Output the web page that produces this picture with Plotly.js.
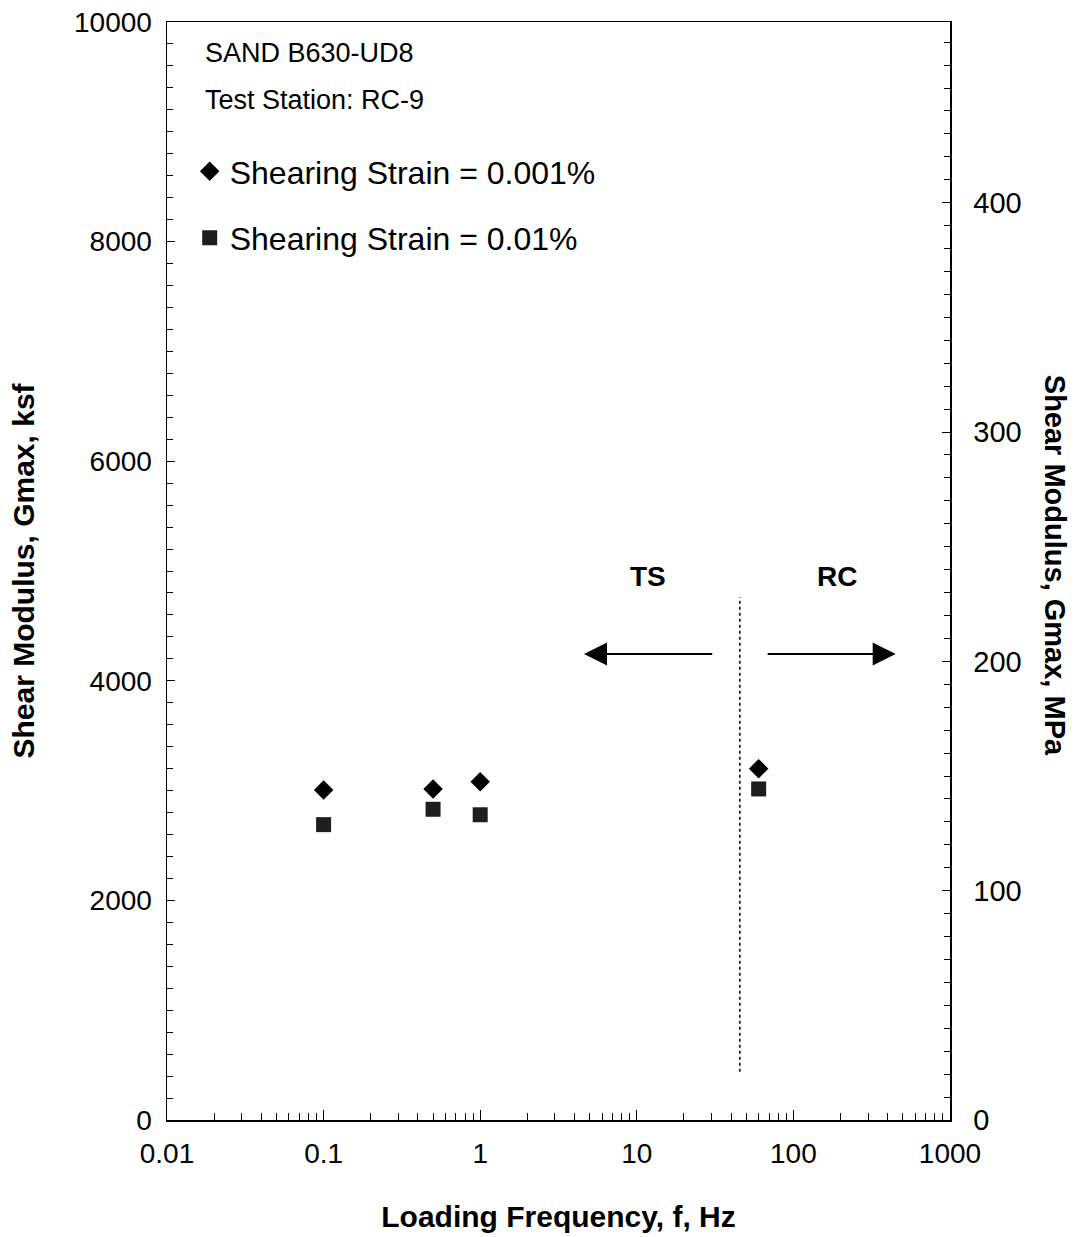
<!DOCTYPE html>
<html>
<head>
<meta charset="utf-8">
<script src="https://cdn.plot.ly/plotly-3.0.1.min.js"></script>
<style>body{margin:0;background:#fff;} #chart{width:1080px;height:1237px;}</style>
</head>
<body>
<div id="chart"></div>
<script>
// Data
const freqHz = [0.1, 0.5, 1, 60];
const gmaxStrain001 = [3005, 3015, 3080, 3200];   // ksf, strain 0.001%
const gmaxStrain01 = [2690, 2830, 2780, 3015];    // ksf, strain 0.01%
const seriesNames = ['Shearing Strain = 0.001%', 'Shearing Strain = 0.01%'];
const dividerFreq = [45.5, 45.5];
const dividerG = [440, 4760];
const ksfToMPa = 0.04788;
const yRangeKsf = [0, 10000];
const xTickVals = [0.01, 0.1, 1, 10, 100, 1000];
const xTickText = ['0.01', '0.1', '1', '10', '100', '1000'];
const infoLines = ['SAND B630-UD8', 'Test Station: RC-9'];
const regionLabels = ['TS', 'RC'];
const regionLabelFreq = [11.8, 190];
const regionLabelG = 4950;
const arrowG = 4245;
const arrowTS = [31, 4.6];   // tail, head
const arrowRC = [67, 450];   // tail, head

const font = 'Liberation Sans, Arial, sans-serif';

const traces = [
  {x: freqHz, y: gmaxStrain001, mode: 'markers', type: 'scatter', name: seriesNames[0],
   legendgroup: 'a', marker: {symbol: 'diamond', size: 15, color: '#000'}},
  {x: freqHz, y: gmaxStrain01, mode: 'markers', type: 'scatter', name: seriesNames[1],
   legendgroup: 'b', marker: {symbol: 'square', size: 15, color: '#1e1e1e'}},
  {x: dividerFreq, y: dividerG, mode: 'lines', type: 'scatter', showlegend: false,
   line: {color: '#000', width: 1.5, dash: 'dot'}, hoverinfo: 'skip'},
  {x: freqHz, y: gmaxStrain001.map(v => v * ksfToMPa), yaxis: 'y2', mode: 'markers',
   type: 'scatter', showlegend: false, marker: {opacity: 0}, hoverinfo: 'skip'}
];

const annotations = [
  {xref: 'paper', yref: 'paper', x: 0.046, y: 0.972, xanchor: 'left', yanchor: 'middle',
   text: infoLines[0], showarrow: false, font: {family: font, size: 27, color: '#000'}},
  {xref: 'paper', yref: 'paper', x: 0.046, y: 0.929, xanchor: 'left', yanchor: 'middle',
   text: infoLines[1], showarrow: false, font: {family: font, size: 27, color: '#000'}},
  {x: Math.log10(regionLabelFreq[0]), y: regionLabelG, text: '<b>' + regionLabels[0] + '</b>',
   showarrow: false, font: {family: font, size: 28, color: '#000'}},
  {x: Math.log10(regionLabelFreq[1]), y: regionLabelG, text: '<b>' + regionLabels[1] + '</b>',
   showarrow: false, font: {family: font, size: 28, color: '#000'}},
  {x: Math.log10(arrowTS[1]), y: arrowG, ax: Math.log10(arrowTS[0]), ay: arrowG,
   axref: 'x', ayref: 'y', text: '', showarrow: true, arrowhead: 2, arrowsize: 2.3,
   arrowwidth: 2, arrowcolor: '#000'},
  {x: Math.log10(arrowRC[1]), y: arrowG, ax: Math.log10(arrowRC[0]), ay: arrowG,
   axref: 'x', ayref: 'y', text: '', showarrow: true, arrowhead: 2, arrowsize: 2.3,
   arrowwidth: 2, arrowcolor: '#000'},
  {xref: 'paper', yref: 'paper', x: 1.158, y: 0.505, textangle: 90,
   text: '<b>Shear Modulus, Gmax, MPa</b>', showarrow: false,
   font: {family: font, size: 29, color: '#000'}}
];

const layout = {
  width: 1080, height: 1237,
  margin: {l: 167, r: 130, t: 22, b: 117},
  paper_bgcolor: '#fff', plot_bgcolor: '#fff',
  font: {family: font, size: 28, color: '#000'},
  showlegend: true,
  legend: {x: 0.029, y: 0.889, xanchor: 'left', yanchor: 'top', bgcolor: 'rgba(0,0,0,0)',
    font: {family: font, size: 32, color: '#000'}, traceorder: 'grouped', tracegroupgap: 22},
  xaxis: {type: 'log', range: [-2, 3], tickvals: xTickVals, ticktext: xTickText,
    ticks: 'inside', ticklen: 10, tickwidth: 1, tickcolor: '#000',
    showline: true, linecolor: '#000', linewidth: 1.5, mirror: true, showgrid: false, zeroline: false,
    minor: {dtick: 'D1', ticks: 'inside', ticklen: 7, tickcolor: '#000', showgrid: false},
    tickfont: {family: font, size: 28}, ticklabelstandoff: 8,
    title: {text: '<b>Loading Frequency, f, Hz</b>', font: {family: font, size: 30}, standoff: 38}},
  yaxis: {range: yRangeKsf, dtick: 2000, tickformat: 'd', ticks: 'inside', ticklen: 8, tickcolor: '#000',
    showline: true, linecolor: '#000', linewidth: 1.5, showgrid: false, zeroline: false,
    minor: {dtick: 200, ticks: 'inside', ticklen: 6, tickcolor: '#000', showgrid: false},
    tickfont: {family: font, size: 28}, ticklabelstandoff: 8,
    title: {text: '<b>Shear Modulus, Gmax, ksf</b>', font: {family: font, size: 30}, standoff: 30}},
  yaxis2: {overlaying: 'y', side: 'right', range: yRangeKsf.map(v => v * ksfToMPa), dtick: 100,
    ticks: 'inside', ticklen: 8, tickcolor: '#000', showline: true, linecolor: '#000', linewidth: 1.5,
    showgrid: false, zeroline: false,
    minor: {dtick: 10, ticks: 'inside', ticklen: 6, tickcolor: '#000', showgrid: false},
    tickfont: {family: font, size: 29}, ticklabelstandoff: 16},
  annotations: annotations
};

Plotly.newPlot('chart', traces, layout, {displayModeBar: false, staticPlot: true});
</script>
</body>
</html>
